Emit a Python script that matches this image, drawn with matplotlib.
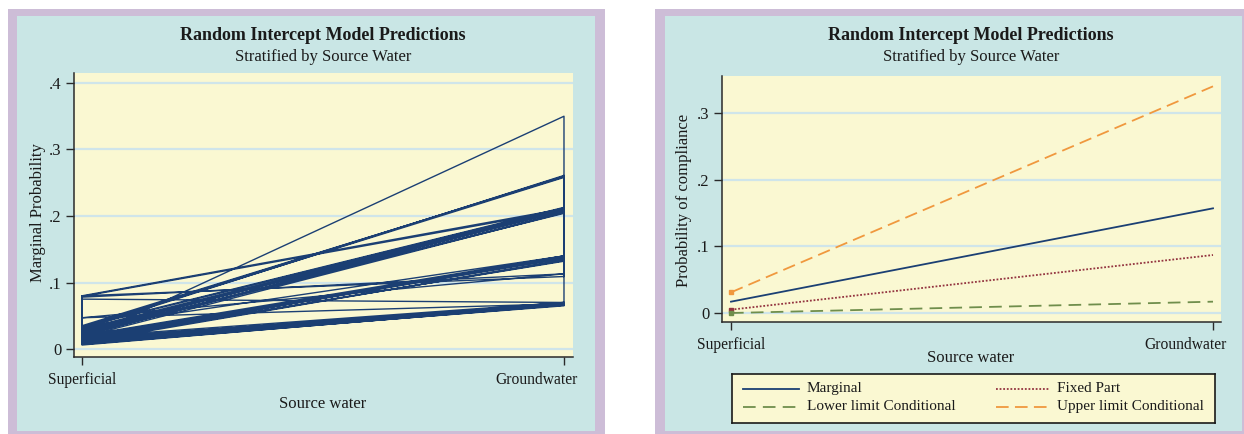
import matplotlib
matplotlib.use("Agg")
import matplotlib.pyplot as plt
from matplotlib.patches import Rectangle
from matplotlib.transforms import ScaledTranslation

# ---------------- data ----------------
categories = ["Superficial", "Groundwater"]
# Left panel: marginal predictions per cluster (superficial value, groundwater value),
# in the observation order Stata connected them
left_superficial = [0.015, 0.009, 0.080, 0.033, 0.035, 0.030, 0.032, 0.079, 0.033, 0.030,
                    0.028, 0.025, 0.022, 0.020, 0.034, 0.027, 0.018, 0.024, 0.021, 0.020,
                    0.017, 0.015, 0.013, 0.019, 0.016, 0.012, 0.014, 0.010, 0.033, 0.078,
                    0.080, 0.047, 0.075, 0.047, 0.008, 0.007, 0.010, 0.012, 0.011, 0.013,
                    0.006, 0.015, 0.018, 0.014, 0.016]
left_groundwater = [0.350, 0.065, 0.211, 0.260, 0.259, 0.261, 0.258, 0.209, 0.212, 0.211,
                    0.210, 0.212, 0.209, 0.211, 0.213, 0.208, 0.205, 0.204, 0.206, 0.140,
                    0.139, 0.138, 0.140, 0.137, 0.136, 0.133, 0.132, 0.134, 0.140, 0.113,
                    0.109, 0.113, 0.070, 0.068, 0.068, 0.066, 0.067, 0.069, 0.070, 0.066,
                    0.067, 0.069, 0.070, 0.068, 0.067]

# Right panel series
series_names = ["Marginal", "Fixed Part", "Lower limit Conditional", "Upper limit Conditional"]
marginal = [0.017, 0.157]
fixed_part = [0.005, 0.087]
lower_cond = [0.000, 0.017]
upper_cond = [0.031, 0.340]

left_yticks = [0, 0.1, 0.2, 0.3, 0.4]
left_yticklabels = ["0", ".1", ".2", ".3", ".4"]
right_yticks = [0, 0.1, 0.2, 0.3]
right_yticklabels = ["0", ".1", ".2", ".3"]

# ---------------- style ----------------
W, H = 1244, 434
LAV = "#CDBDD7"
TEAL = "#C9E6E5"
YEL = "#FAF8D2"
GRID = "#CFE5EA"
NAVY = "#1B3F73"
MAROON = "#93333F"
GREEN = "#6F8E4C"
ORANGE = "#F0983E"
TXT = "#1a1a1a"
SERIF = "Liberation Serif"
FS = 12
FS_TICK = 11.2
FS_LEG = 11

plt.rcParams["font.family"] = SERIF

fig = plt.figure(figsize=(W / 100, H / 100), dpi=100)
fig.patch.set_facecolor("white")


def fx(x):
    return x / W


def fy(y):
    return 1 - y / H


def rect(x0, y0, x1, y1, color):
    fig.patches.append(Rectangle((fx(x0), fy(y1)), fx(x1 - x0), (y1 - y0) / H,
                                 transform=fig.transFigure, facecolor=color,
                                 edgecolor="none", zorder=-10))


# panel backgrounds
rect(8, 9, 605, 434, LAV)
rect(17, 16, 595, 431, TEAL)
rect(655, 9, 1244, 434, LAV)
rect(665, 16, 1242, 431, TEAL)


def make_axes(x0, y0, x1, y1, yticks, ylabels, ylim, xlim):
    ax = fig.add_axes([fx(x0), fy(y1), fx(x1 - x0), (y1 - y0) / H])
    ax.set_facecolor(YEL)
    ax.set_xlim(*xlim)
    ax.set_ylim(*ylim)
    for s in ["top", "right"]:
        ax.spines[s].set_visible(False)
    for s in ["left", "bottom"]:
        ax.spines[s].set_color("#2a2a2a")
        ax.spines[s].set_linewidth(1.1)
    ax.set_yticks(yticks)
    ax.set_yticklabels(ylabels)
    ax.set_xticks([0, 1])
    ax.set_xticklabels(categories)
    ax.tick_params(axis="both", direction="out", length=6, width=1.0,
                   color="#2a2a2a", labelsize=FS_TICK, labelcolor=TXT)
    ax.tick_params(axis="y", labelsize=FS)
    ax.tick_params(axis="x", pad=5)
    ax.tick_params(axis="y", pad=3)
    lab = ax.get_xticklabels()[1]
    lab.set_ha("right")
    lab.set_transform(lab.get_transform() + ScaledTranslation(14 / 100, 0, fig.dpi_scale_trans))
    for yt in yticks:
        ax.axhline(yt, color=GRID, lw=1.6, zorder=0)
    return ax


# ---------------- left panel ----------------
axL = make_axes(74, 73, 573, 357, left_yticks, left_yticklabels,
                (-0.012, 0.415), (-0.0166, 1.0187))
xs, ys = [], []
for i, (a, b) in enumerate(zip(left_superficial, left_groundwater)):
    if i % 2 == 0:
        xs += [0, 1]
        ys += [a, b]
    else:
        xs += [1, 0]
        ys += [b, a]
axL.plot(xs, ys, color=NAVY, lw=1.0, zorder=3)

fig.text(fx(323), fy(35), "Random Intercept Model Predictions", ha="center", va="center",
         fontsize=13, fontweight="bold", color=TXT)
fig.text(fx(323), fy(57), "Stratified by Source Water", ha="center", va="center",
         fontsize=FS, color=TXT)
fig.text(fx(323), fy(404), "Source water", ha="center", va="center",
         fontsize=FS, color=TXT)
fig.text(fx(38), fy(213), "Marginal Probability", ha="center", va="center",
         rotation=90, fontsize=FS, color=TXT)

# ---------------- right panel ----------------
axR = make_axes(722, 76, 1221, 322, right_yticks, right_yticklabels,
                (-0.0135, 0.3555), (-0.0187, 1.0166))
x = [0, 1]
styles = [
    dict(color=NAVY, lw=1.3, ls="-"),
    dict(color=MAROON, lw=1.3, ls=(0, (1, 1))),
    dict(color=GREEN, lw=1.3, ls=(0, (7, 4))),
    dict(color=ORANGE, lw=1.3, ls=(0, (7, 3.5))),
]
all_series = [marginal, fixed_part, lower_cond, upper_cond]
for ser, st in zip(all_series, styles):
    axR.plot(x, ser, zorder=4, **st)
for ser, st in zip(all_series[1:], styles[1:]):
    axR.plot([0], [ser[0]], marker="s", ms=3, color=st["color"], ls="none", zorder=5)

fig.text(fx(971), fy(35), "Random Intercept Model Predictions", ha="center", va="center",
         fontsize=13, fontweight="bold", color=TXT)
fig.text(fx(971), fy(57), "Stratified by Source Water", ha="center", va="center",
         fontsize=FS, color=TXT)
fig.text(fx(971), fy(358), "Source water", ha="center", va="center",
         fontsize=FS, color=TXT)
fig.text(fx(684), fy(200), "Probability of compliance", ha="center", va="center",
         rotation=90, fontsize=FS, color=TXT)

# legend box (drawn in pixel coordinates of the box)
lx0, ly0, lx1, ly1 = 732, 374, 1215, 423
legax = fig.add_axes([fx(lx0), fy(ly1), fx(lx1 - lx0), (ly1 - ly0) / H])
legax.set_xlim(lx0, lx1)
legax.set_ylim(ly1, ly0)
legax.set_xticks([])
legax.set_yticks([])
legax.set_facecolor(YEL)
for s in legax.spines.values():
    s.set_color("#1a1a1a")
    s.set_linewidth(1.2)
# order: Marginal, Fixed Part (row 1); Lower, Upper (row 2)
slots = [(743, 799, 389), (996, 1049, 389), (743, 799, 407), (996, 1049, 407)]
for idx, (hx0, hx1, hy) in enumerate(slots):
    legax.plot([hx0, hx1], [hy, hy], **styles[idx])
    legax.text(hx1 + 8, hy, series_names[idx], ha="left", va="center",
               fontsize=FS_LEG, color=TXT)

fig.savefig("out.png", dpi=100, facecolor="white")
